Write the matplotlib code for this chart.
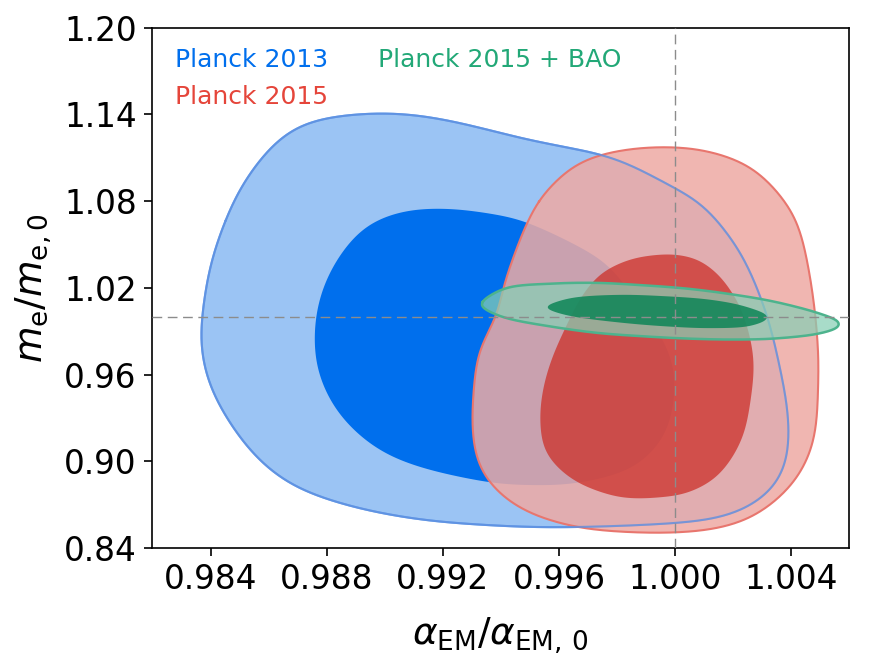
import numpy as np
import matplotlib.pyplot as plt

# contour outlines (alpha_EM/alpha_EM,0 , m_e/m_e,0)
p13_outer_x = [0.98450, 0.98503, 0.98595, 0.98688, 0.98810, 0.98979, 0.99117, 0.99271,
               0.99501, 0.99762, 0.99885, 1.00000, 1.00086, 1.00172, 1.00240, 1.00320,
               1.00361, 1.00385, 1.00395, 1.00384, 1.00338, 1.00238, 1.00115, 0.99885,
               0.99578, 0.99348, 0.99117, 0.98887, 0.98688, 0.98565, 0.98473, 0.98396,
               0.98365, 0.98365, 0.98396]
p13_outer_y = [1.0667, 1.0898, 1.1151, 1.1312, 1.1381, 1.1409, 1.1393, 1.1335,
               1.1220, 1.1116, 1.1013, 1.0886, 1.0800, 1.0600, 1.0400, 1.0000,
               0.9653, 0.9420, 0.9193, 0.8962, 0.8801, 0.8663, 0.8594, 0.8559,
               0.8543, 0.8559, 0.8598, 0.8686, 0.8824, 0.9008, 0.9239, 0.9515,
               0.9769, 0.9930, 1.0345]

p13_inner_x = [0.99202, 0.99363, 0.99501, 0.99731, 0.99823, 0.99931, 0.99985, 1.00000,
               0.99977, 0.99916, 0.99823, 0.99655, 0.99501, 0.99348, 0.99117, 0.98964,
               0.98841, 0.98772, 0.98757, 0.98780, 0.98841, 0.98933, 0.99056]
p13_inner_y = [1.0748, 1.0713, 1.0644, 1.0414, 1.0229, 0.9930, 0.9723, 0.9515,
               0.9239, 0.9054, 0.8928, 0.8847, 0.8835, 0.8858, 0.8962, 0.9100,
               0.9331, 0.9607, 0.9884, 1.0160, 1.0414, 1.0621, 1.0725]

p15_outer_x = [0.99528, 0.99590, 0.99655, 0.99741, 0.99845, 0.99948, 1.00069, 1.00192,
               1.00286, 1.00379, 1.00431, 1.00472, 1.00493, 1.00494, 1.00484, 1.00445,
               1.00376, 1.00269, 1.00146, 0.99992, 0.99808, 0.99655, 0.99501, 0.99394,
               0.99325, 0.99302, 0.99305, 0.99325, 0.99386, 0.99407, 0.99441, 0.99479]
p15_outer_y = [1.0800, 1.0940, 1.1050, 1.1120, 1.1160, 1.1174, 1.1162, 1.1100,
               1.1000, 1.0800, 1.0600, 1.0200, 0.9800, 0.9538, 0.9193, 0.8962,
               0.8778, 0.8617, 0.8536, 0.8506, 0.8513, 0.8547, 0.8640, 0.8778,
               0.8962, 0.9193, 0.9469, 0.9769, 1.0000, 1.0200, 1.0400, 1.0600]

p15_inner_x = [0.99962, 0.99854, 0.99762, 0.99716, 0.99670, 0.99624, 0.99578, 0.99547,
               0.99535, 0.99547, 0.99593, 0.99670, 0.99777, 0.99854, 0.99946, 1.00038,
               1.00130, 1.00192, 1.00238, 1.00261, 1.00272, 1.00261, 1.00230, 1.00192,
               1.00146, 1.00084, 1.00023]
p15_inner_y = [1.0432, 1.0402, 1.0322, 1.0241, 1.0114, 0.9930, 0.9723, 0.9515,
               0.9308, 0.9100, 0.8962, 0.8847, 0.8766, 0.8743, 0.8750, 0.8778,
               0.8870, 0.9008, 0.9193, 0.9423, 0.9653, 0.9838, 1.0045, 1.0183,
               1.0299, 1.0391, 1.0425]

bao_outer_x = [0.99332, 0.99424, 0.99578, 0.99731, 0.99885, 1.00038, 1.00192, 1.00345,
               1.00499, 1.00575, 1.00499, 1.00345, 1.00192, 1.00038, 0.99885, 0.99731,
               0.99578, 0.99424, 0.99340]
bao_outer_y = [1.0103, 1.0202, 1.0229, 1.0234, 1.0218, 1.0195, 1.0156, 1.0103,
               1.0022, 0.9948, 0.9884, 0.9849, 0.9842, 0.9849, 0.9865, 0.9888,
               0.9930, 0.9987, 1.0057]

bao_inner_x = [0.99563, 0.99655, 0.99808, 0.99962, 1.00115, 1.00238, 1.00322, 1.00253,
               1.00115, 0.99962, 0.99808, 0.99655, 0.99570]
bao_inner_y = [1.0080, 1.0133, 1.0151, 1.0142, 1.0119, 1.0073, 0.9999, 0.9934,
               0.9921, 0.9934, 0.9960, 0.9999, 1.0045]

x_ticks = [0.984, 0.988, 0.992, 0.996, 1.000, 1.004]
y_ticks = [0.84, 0.90, 0.96, 1.02, 1.08, 1.14, 1.20]


def closed_curve(xs, ys, n=30, npts=800, sigma=10):
    # periodic Catmull-Rom through the traced points, then a light circular smoothing
    p = np.column_stack([xs, ys])
    p0 = np.roll(p, 1, axis=0)
    p2 = np.roll(p, -1, axis=0)
    p3 = np.roll(p, -2, axis=0)
    t = np.linspace(0, 1, n, endpoint=False)[:, None, None]
    seg = 0.5 * (2 * p + (-p0 + p2) * t + (2 * p0 - 5 * p + 4 * p2 - p3) * t ** 2
                 + (-p0 + 3 * p - 3 * p2 + p3) * t ** 3)
    pts = seg.transpose(1, 0, 2).reshape(-1, 2)
    # resample by arc length (in roughly screen-proportional units)
    scale = np.array([1 / 0.024, 1 / 0.36 * 0.75])
    q = np.vstack([pts, pts[:1]]) * scale
    d = np.concatenate([[0], np.cumsum(np.hypot(*np.diff(q, axis=0).T))])
    s = np.linspace(0, d[-1], npts, endpoint=False)
    rx = np.interp(s, d, q[:, 0])
    ry = np.interp(s, d, q[:, 1])
    k = np.arange(-3 * sigma, 3 * sigma + 1)
    w = np.exp(-0.5 * (k / sigma) ** 2)
    w /= w.sum()
    sx = sum(wi * np.roll(rx, ki) for ki, wi in zip(k, w))
    sy = sum(wi * np.roll(ry, ki) for ki, wi in zip(k, w))
    sx = np.append(sx, sx[0]) / scale[0]
    sy = np.append(sy, sy[0]) / scale[1]
    return sx, sy


fig = plt.figure(figsize=(8.72, 6.68), dpi=100)
ax = fig.add_axes([0.1743, 0.1796, 0.7993, 0.7792])

bx, by = closed_curve(p13_outer_x, p13_outer_y)
ax.fill(bx, by, facecolor='#9BC4F4', edgecolor='#66A3EE', lw=1.5, zorder=1)
x, y = closed_curve(p13_inner_x, p13_inner_y)
ax.fill(x, y, facecolor='#006FED', edgecolor='none', zorder=2)

x, y = closed_curve(p15_outer_x, p15_outer_y)
ax.fill(x, y, facecolor=(0.933, 0.667, 0.643), alpha=0.85, edgecolor='none', zorder=3)
ax.plot(x, y, color='#E8766E', lw=1.5, zorder=3.1)
x, y = closed_curve(p15_inner_x, p15_inner_y)
ax.fill(x, y, facecolor=(0.80, 0.17, 0.14), alpha=0.72, edgecolor='none', zorder=4)

# outline of the 2013 outer contour shows through the 2015 region
ax.plot(bx, by, color='#5F8FE0', lw=1.5, alpha=0.8, zorder=4.5)

x, y = closed_curve(bao_outer_x, bao_outer_y, sigma=6)
ax.fill(x, y, facecolor=(0.53, 0.81, 0.71), alpha=0.72, edgecolor='none', zorder=5)
ax.plot(x, y, color='#4DB38D', lw=1.8, zorder=5.1)
x, y = closed_curve(bao_inner_x, bao_inner_y, sigma=6)
ax.fill(x, y, facecolor=(0.05, 0.52, 0.34), alpha=0.85, edgecolor='none', zorder=6)

ax.axvline(1.0, color='0.55', lw=1.0, ls=(0, (7, 4)), zorder=7)
ax.axhline(1.0, color='0.55', lw=1.0, ls=(0, (7, 4)), zorder=7)

ax.set_xlim(0.98197, 1.0060)
ax.set_ylim(0.84, 1.20)
ax.set_xticks(x_ticks)
ax.set_xticklabels(['%.3f' % v for v in x_ticks])
ax.set_yticks(y_ticks)
ax.set_yticklabels(['%.2f' % v for v in y_ticks])
ax.tick_params(labelsize=23.5, length=6, width=1.2, direction='out', pad=5)
for s in ax.spines.values():
    s.set_linewidth(1.2)

ax.set_xlabel(r'$\alpha_{\rm EM}/\alpha_{\rm EM,\,0}$', fontsize=27)
ax.set_ylabel(r'$m_{\rm e}/m_{\rm e,0}$', fontsize=27)
ax.xaxis.set_label_coords(0.5, -0.13)
ax.yaxis.set_label_coords(-0.14, 0.5)

ax.text(0.033, 0.9376, 'Planck 2013', color='#006FED', fontsize=18,
        transform=ax.transAxes, va='center', zorder=8)
ax.text(0.033, 0.866, 'Planck 2015', color='#E5453A', fontsize=18,
        transform=ax.transAxes, va='center', zorder=8)
ax.text(0.324, 0.9376, 'Planck 2015 + BAO', color='#22A877', fontsize=18,
        transform=ax.transAxes, va='center', zorder=8)

fig.savefig('out.png', dpi=100)
